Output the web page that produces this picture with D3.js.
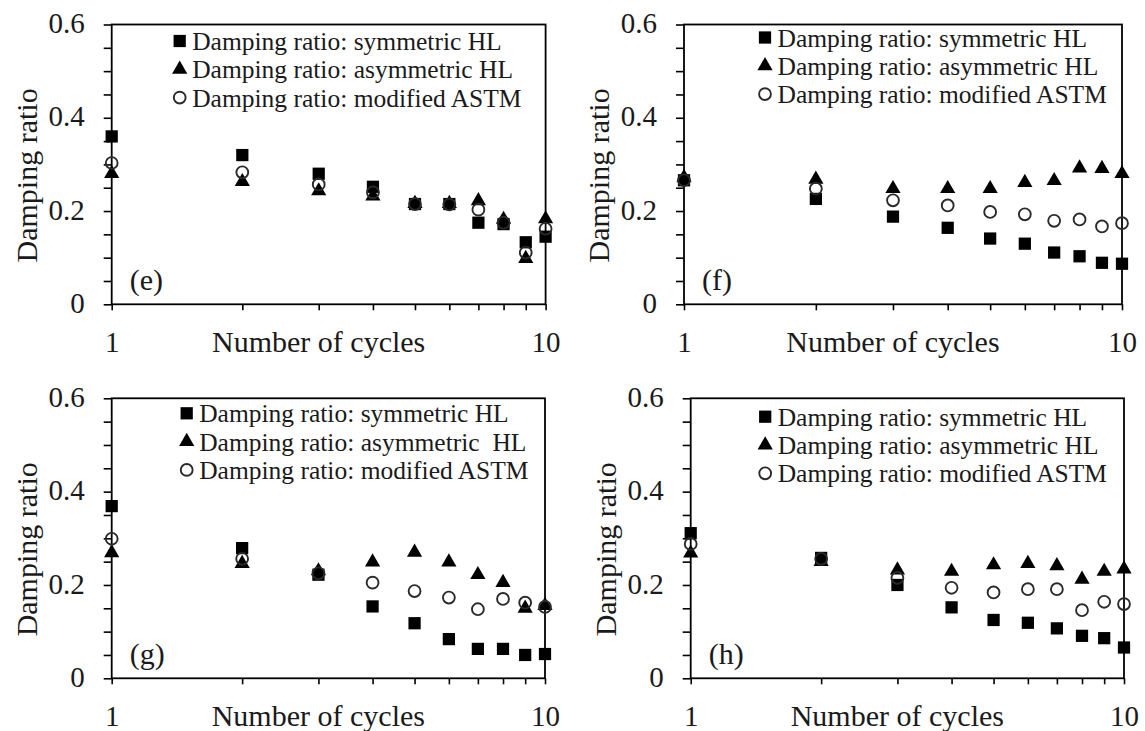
<!DOCTYPE html>
<html>
<head>
<meta charset="utf-8">
<script src="https://cdn.jsdelivr.net/npm/d3@7"></script>
<style>
  html, body { margin: 0; padding: 0; background: #fff; }
  svg { display: block; font-family: "Liberation Serif", "Times New Roman", serif; }
  text { fill: #1a1a1a; white-space: pre; }
</style>
</head>
<body>
<svg id="chart" width="1145" height="731"></svg>
<script>
// Damping ratio vs. number of cycles, four test cases (e)-(h)
const cycles = [1, 2, 3, 4, 5, 6, 7, 8, 9, 10];
const panelLabels = ["(e)", "(f)", "(g)", "(h)"];
const xTickLabels = [1, 10];
const yTickLabels = [0, 0.2, 0.4, 0.6];
const legendNames = [
  "Damping ratio: symmetric HL",
  "Damping ratio: asymmetric HL",
  "Damping ratio: modified ASTM"
];
const legendNamesG = [
  "Damping ratio: symmetric HL",
  "Damping ratio: asymmetric  HL",
  "Damping ratio: modified ASTM"
];

// (e)
const eSymmetric  = [0.360, 0.320, 0.280, 0.252, 0.215, 0.215, 0.175, 0.172, 0.133, 0.145];
const eAsymmetric = [0.280, 0.263, 0.243, 0.232, 0.216, 0.216, 0.222, 0.182, 0.098, 0.183];
const eAstm       = [0.303, 0.283, 0.257, 0.240, 0.215, 0.214, 0.203, 0.175, 0.111, 0.162];
// (f)
const fSymmetric  = [0.266, 0.226, 0.188, 0.164, 0.141, 0.130, 0.111, 0.103, 0.089, 0.087];
const fAsymmetric = [0.272, 0.268, 0.248, 0.248, 0.248, 0.261, 0.265, 0.292, 0.291, 0.280];
const fAstm       = [0.266, 0.248, 0.223, 0.212, 0.198, 0.193, 0.179, 0.182, 0.167, 0.174];
// (g)
const gSymmetric  = [0.369, 0.279, 0.222, 0.154, 0.118, 0.084, 0.063, 0.063, 0.050, 0.052];
const gAsymmetric = [0.269, 0.246, 0.230, 0.249, 0.270, 0.249, 0.222, 0.205, 0.150, 0.156];
const gAstm       = [0.299, 0.256, 0.225, 0.205, 0.187, 0.173, 0.148, 0.170, 0.162, 0.153];
// (h)
const hSymmetric  = [0.311, 0.258, 0.200, 0.152, 0.125, 0.119, 0.107, 0.091, 0.086, 0.066];
const hAsymmetric = [0.268, 0.250, 0.232, 0.229, 0.243, 0.246, 0.241, 0.212, 0.229, 0.234];
const hAstm       = [0.288, 0.256, 0.215, 0.194, 0.184, 0.191, 0.191, 0.146, 0.164, 0.159];

// Panel frames and legend placement
const panels = [
  { label: panelLabels[0], names: legendNames,  sym: eSymmetric, asym: eAsymmetric, astm: eAstm,
    x0: 111.7, x1: 545.6, y0: 24.5, y1: 304.3, legX: 68, legY: 16.5 },
  { label: panelLabels[1], names: legendNames,  sym: fSymmetric, asym: fAsymmetric, astm: fAstm,
    x0: 684.0, x1: 1122.0, y0: 24.5, y1: 304.3, legX: 81, legY: 13 },
  { label: panelLabels[2], names: legendNamesG, sym: gSymmetric, asym: gAsymmetric, astm: gAstm,
    x0: 111.7, x1: 545.0, y0: 398.3, y1: 678.3, legX: 75, legY: 15 },
  { label: panelLabels[3], names: legendNames,  sym: hSymmetric, asym: hAsymmetric, astm: hAstm,
    x0: 690.7, x1: 1124.0, y0: 398.3, y1: 678.3, legX: 74.5, legY: 18.4 }
];

const svg = d3.select("#chart");

const markers = [
  { key: "sym",  path: d3.symbol().type(d3.symbolSquare).size(150)(),   fill: "#000", stroke: "none", sw: 0 },
  { key: "asym", path: d3.symbol().type(d3.symbolTriangle).size(100)(), fill: "#000", stroke: "none", sw: 0 },
  { key: "astm", path: d3.symbol().type(d3.symbolCircle).size(110)(),   fill: "none", stroke: "#2a2a2a", sw: 1.9 }
];

panels.forEach(p => {
  const x = d3.scaleLog().domain([1, 10]).range([p.x0, p.x1]);
  const y = d3.scaleLinear().domain([0, 0.6]).range([p.y1, p.y0]);
  const g = svg.append("g");

  // y axis: minor ticks every 0.05, labels every 0.2
  const yAxis = d3.axisLeft(y)
    .tickValues(d3.range(0, 0.6001, 0.05))
    .tickSize(8)
    .tickPadding(19)
    .tickFormat(d => {
      const hit = yTickLabels.find(v => Math.abs(v - d) < 1e-6);
      return hit === undefined ? "" : (hit === 0 ? "0" : d3.format(".1f")(hit));
    });
  const ya = g.append("g").attr("transform", `translate(${p.x0},0)`).call(yAxis);
  ya.select(".domain").remove();
  ya.selectAll("line").attr("stroke", "#000").attr("stroke-width", 1.6);
  ya.selectAll("text").attr("font-size", 29).attr("fill", "#1a1a1a").attr("dy", "0.28em")
    .style("font-family", "'Liberation Serif', 'Times New Roman', serif");

  // x axis: log scale, tick at every cycle, labels at 1 and 10
  const xAxis = d3.axisBottom(x)
    .tickValues(cycles)
    .tickSize(6)
    .tickPadding(21)
    .tickFormat(d => xTickLabels.includes(d) ? String(d) : "");
  const xa = g.append("g").attr("transform", `translate(0,${p.y1})`).call(xAxis);
  xa.select(".domain").remove();
  xa.selectAll("line").attr("stroke", "#000").attr("stroke-width", 1.6);
  xa.selectAll("text").attr("font-size", 29).attr("fill", "#1a1a1a")
    .style("font-family", "'Liberation Serif', 'Times New Roman', serif");

  // frame
  g.append("rect")
    .attr("x", p.x0).attr("y", p.y0)
    .attr("width", p.x1 - p.x0).attr("height", p.y1 - p.y0)
    .attr("fill", "none").attr("stroke", "#000").attr("stroke-width", 1.8);

  // axis titles
  g.append("text")
    .attr("x", (p.x0 + p.x1) / 2 - 10)
    .attr("y", p.y1 + 48)
    .attr("text-anchor", "middle")
    .attr("font-size", 30)
    .text("Number of cycles");
  g.append("text")
    .attr("transform", `translate(${p.x0 - 75},${(p.y0 + p.y1) / 2 + 11}) rotate(-90)`)
    .attr("text-anchor", "middle")
    .attr("font-size", 30)
    .text("Damping ratio");

  // panel tag
  g.append("text")
    .attr("x", p.x0 + 18)
    .attr("y", p.y1 - 14)
    .attr("font-size", 30)
    .text(p.label);

  // data points
  markers.forEach(m => {
    g.append("g").selectAll("path")
      .data(cycles.map((c, i) => [c, p[m.key][i]]))
      .join("path")
      .attr("d", m.path)
      .attr("transform", d => `translate(${x(d[0])},${y(d[1])})`)
      .attr("fill", m.fill)
      .attr("stroke", m.stroke)
      .attr("stroke-width", m.sw);
  });

  // legend
  const leg = g.append("g").attr("transform", `translate(${p.x0 + p.legX},${p.y0 + p.legY})`);
  markers.forEach((m, i) => {
    const row = leg.append("g").attr("transform", `translate(0,${i * 28.3})`);
    row.append("path")
      .attr("d", m.path)
      .attr("fill", m.fill)
      .attr("stroke", m.stroke)
      .attr("stroke-width", m.sw);
    row.append("text")
      .attr("x", 12.5)
      .attr("y", 9)
      .attr("font-size", 25.5)
      .text(p.names[i]);
  });
});
</script>
</body>
</html>
